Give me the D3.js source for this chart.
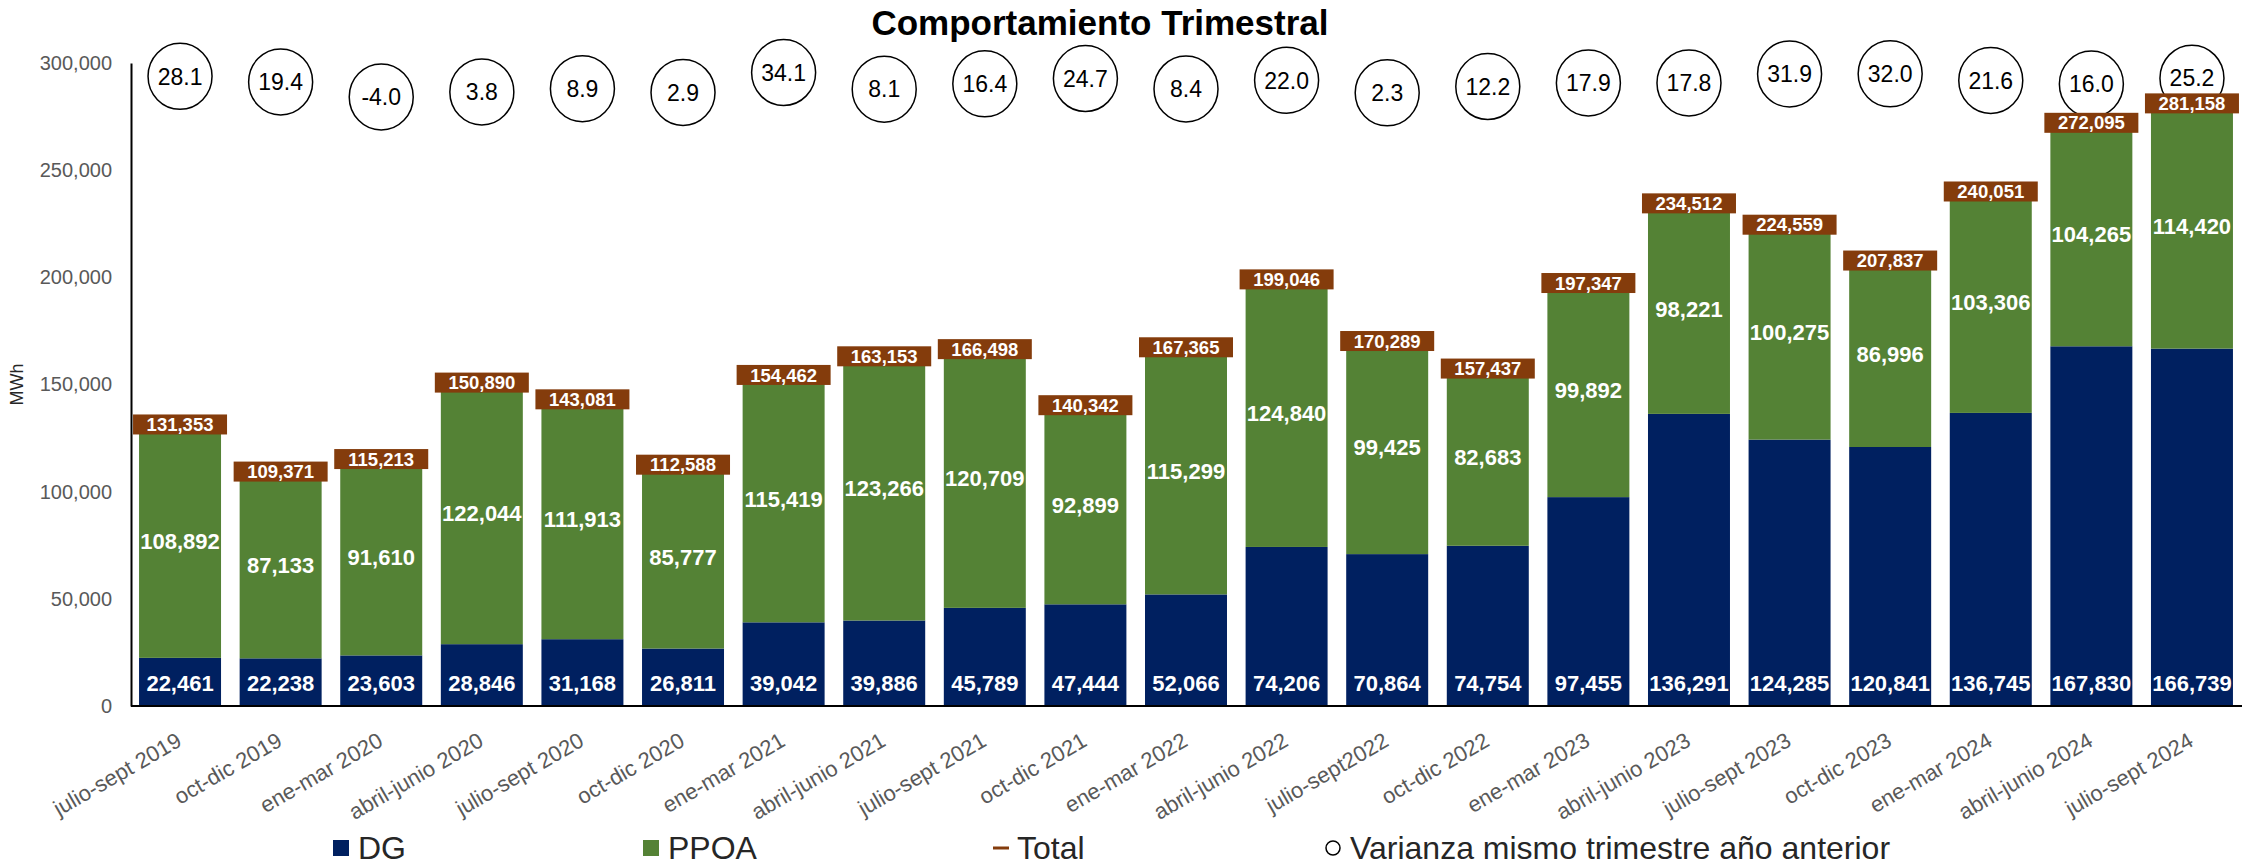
<!DOCTYPE html>
<html>
<head>
<meta charset="utf-8">
<script src="https://cdn.jsdelivr.net/npm/d3@7"></script>
<style>
  body { margin: 0; background: #fff; }
  svg { display: block; font-family: "Liberation Sans", Arial, sans-serif; }
</style>
</head>
<body>
<svg id="chart"></svg>
<script>
const quarters = [
  "julio-sept 2019", "oct-dic 2019", "ene-mar 2020", "abril-junio 2020", "julio-sept 2020",
  "oct-dic 2020", "ene-mar 2021", "abril-junio 2021", "julio-sept 2021", "oct-dic 2021",
  "ene-mar 2022", "abril-junio 2022", "julio-sept2022", "oct-dic 2022", "ene-mar 2023",
  "abril-junio 2023", "julio-sept 2023", "oct-dic 2023", "ene-mar 2024", "abril-junio 2024",
  "julio-sept 2024"
];
const dgValues = [
  22461, 22238, 23603, 28846, 31168, 26811, 39042, 39886, 45789, 47444,
  52066, 74206, 70864, 74754, 97455, 136291, 124285, 120841, 136745, 167830, 166739
];
const ppoaValues = [
  108892, 87133, 91610, 122044, 111913, 85777, 115419, 123266, 120709, 92899,
  115299, 124840, 99425, 82683, 99892, 98221, 100275, 86996, 103306, 104265, 114420
];
const totalValues = [
  131353, 109371, 115213, 150890, 143081, 112588, 154462, 163153, 166498, 140342,
  167365, 199046, 170289, 157437, 197347, 234512, 224559, 207837, 240051, 272095, 281158
];
const varianceValues = [
  28.1, 19.4, -4.0, 3.8, 8.9, 2.9, 34.1, 8.1, 16.4, 24.7,
  8.4, 22.0, 2.3, 12.2, 17.9, 17.8, 31.9, 32.0, 21.6, 16.0, 25.2
];
const yTicks = [0, 50000, 100000, 150000, 200000, 250000, 300000];
const legendItems = ["DG", "PPOA", "Total", "Varianza mismo trimestre año anterior"];

const width = 2242, height = 865;
const colors = { dg: "#002060", ppoa: "#548235", total: "#843C0C" };

const rows = quarters.map((q, i) => ({
  quarter: q,
  dg: dgValues[i],
  ppoa: ppoaValues[i],
  total: totalValues[i],
  variance: varianceValues[i]
}));

const svg = d3.select("#chart")
  .attr("width", width)
  .attr("height", height);

const x = d3.scaleBand()
  .domain(quarters)
  .range([131, 2241])
  .paddingInner(0.185)
  .paddingOuter(0.08);

const y = d3.scaleLinear()
  .domain([0, 300000])
  .range([706, 63]);

// hidden secondary axis for the variance circles
const y2 = d3.scaleLinear()
  .domain([-957, 49])
  .range([706, 63]);

const fmt = d3.format(",");
// plain hyphen for negatives, like the source
const fmt1 = d3.formatLocale({ decimal: ".", thousands: ",", grouping: [3], currency: ["", ""], minus: "-" }).format(".1f");

// title
svg.append("text")
  .attr("x", 1100)
  .attr("y", 35)
  .attr("text-anchor", "middle")
  .attr("font-size", "35px")
  .attr("font-weight", "bold")
  .attr("fill", "#000")
  .text("Comportamiento Trimestral");

// axis title
svg.append("text")
  .attr("transform", `translate(23,${(y(0) + y(300000)) / 2}) rotate(-90)`)
  .attr("text-anchor", "middle")
  .attr("font-size", "18px")
  .attr("fill", "#262626")
  .text("MWh");

// stacked bars
const stack = d3.stack().keys(["dg", "ppoa"])(rows);

svg.append("g")
  .selectAll("g")
  .data(stack)
  .enter()
  .append("g")
  .attr("fill", d => colors[d.key])
  .selectAll("rect")
  .data(d => d)
  .enter()
  .append("rect")
  .attr("x", d => x(d.data.quarter))
  .attr("width", x.bandwidth())
  .attr("y", d => y(d[1]))
  .attr("height", d => y(d[0]) - y(d[1]));

// DG labels sit near the base of the bar
svg.append("g")
  .selectAll("text")
  .data(rows)
  .enter()
  .append("text")
  .attr("x", d => x(d.quarter) + x.bandwidth() / 2)
  .attr("y", y(0) - 23)
  .attr("dy", "0.36em")
  .attr("text-anchor", "middle")
  .attr("font-size", "22px")
  .attr("font-weight", "bold")
  .attr("fill", "#fff")
  .text(d => fmt(d.dg));

// PPOA labels centred in their segment
svg.append("g")
  .selectAll("text")
  .data(rows)
  .enter()
  .append("text")
  .attr("x", d => x(d.quarter) + x.bandwidth() / 2)
  .attr("y", d => y(d.dg + d.ppoa / 2))
  .attr("dy", "0.36em")
  .attr("text-anchor", "middle")
  .attr("font-size", "22px")
  .attr("font-weight", "bold")
  .attr("fill", "#fff")
  .text(d => fmt(d.ppoa));

// axes
const yAxis = svg.append("g")
  .attr("transform", `translate(${x.range()[0]},0)`)
  .call(d3.axisLeft(y).tickValues(yTicks).tickSize(0).tickPadding(19).tickFormat(fmt));

yAxis.select(".domain").attr("stroke", "#000").attr("stroke-width", 2);
yAxis.selectAll("text")
  .attr("font-size", "20px")
  .attr("font-family", "Liberation Sans, Arial, sans-serif")
  .attr("fill", "#595959");

const xAxis = svg.append("g")
  .attr("transform", `translate(0,${y(0)})`)
  .call(d3.axisBottom(x).tickSize(0).tickSizeOuter(0));

xAxis.select(".domain")
  .attr("d", `M${x.range()[0]},0H${width}`)
  .attr("stroke", "#000")
  .attr("stroke-width", 2);
xAxis.selectAll("text")
  .attr("x", 0)
  .attr("y", 0)
  .attr("dy", 0)
  .attr("transform", "translate(3,39) rotate(-30)")
  .attr("text-anchor", "end")
  .attr("font-size", "22px")
  .attr("font-family", "Liberation Sans, Arial, sans-serif")
  .attr("fill", "#595959");

// variance circles
const varG = svg.append("g")
  .selectAll("g")
  .data(rows)
  .enter()
  .append("g")
  .attr("transform", d => `translate(${x(d.quarter) + x.bandwidth() / 2},${y2(d.variance)})`);

varG.append("ellipse")
  .attr("rx", 32)
  .attr("ry", 33)
  .attr("fill", "none")
  .attr("stroke", "#000")
  .attr("stroke-width", 1.5);

varG.append("text")
  .attr("dy", "0.36em")
  .attr("text-anchor", "middle")
  .attr("font-size", "23px")
  .attr("fill", "#000")
  .text(d => fmt1(d.variance));

// total boxes
const totG = svg.append("g")
  .selectAll("g")
  .data(rows)
  .enter()
  .append("g")
  .attr("transform", d => `translate(${x(d.quarter) + x.bandwidth() / 2},${y(d.total)})`);

totG.append("rect")
  .attr("x", -47)
  .attr("y", -10)
  .attr("width", 94)
  .attr("height", 20)
  .attr("fill", colors.total);

totG.append("text")
  .attr("dy", "0.36em")
  .attr("text-anchor", "middle")
  .attr("font-size", "18.5px")
  .attr("font-weight", "bold")
  .attr("fill", "#fff")
  .text(d => fmt(d.total));

// legend
const legendX = [333, 643, 993, 1325];
const legend = svg.append("g")
  .selectAll("g")
  .data(legendItems)
  .enter()
  .append("g")
  .attr("transform", (d, i) => `translate(${legendX[i]},848)`);

legend.each(function(d, i) {
  const g = d3.select(this);
  if (i < 2) {
    g.append("rect")
      .attr("x", 0).attr("y", -8)
      .attr("width", 16).attr("height", 16)
      .attr("fill", i === 0 ? colors.dg : colors.ppoa);
  } else if (i === 2) {
    g.append("line")
      .attr("x1", 0).attr("x2", 16)
      .attr("stroke", colors.total)
      .attr("stroke-width", 3);
  } else {
    g.append("circle")
      .attr("cx", 8).attr("r", 7)
      .attr("fill", "none")
      .attr("stroke", "#000")
      .attr("stroke-width", 1.5);
  }
  g.append("text")
    .attr("x", i === 2 ? 24 : 25)
    .attr("y", 11)
    .attr("font-size", "32px")
    .attr("fill", "#262626")
    .text(d);
});
</script>
</body>
</html>
